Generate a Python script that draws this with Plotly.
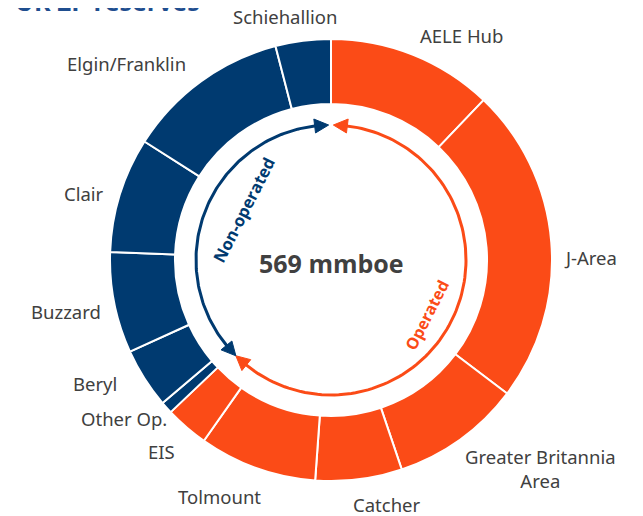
import numpy as np
import plotly.graph_objects as go

# ---- data ----
fields = ["AELE Hub", "J-Area", "Greater Britannia Area", "Catcher", "Tolmount", "EIS",
          "Other Op.", "Beryl", "Buzzard", "Clair", "Elgin/Franklin", "Schiehallion"]
reserves = [69, 132, 54, 36, 49, 18, 5, 25, 42, 48, 68, 23]
operated = [True, True, True, True, True, True, False, False, False, False, False, False]
total_label = "569 mmboe"
title_text = "UK 2P reserves"

ORANGE = "#FB4B17"
NAVY = "#003A70"
GREY = "#404040"

W, H = 643, 516
OFF = 8  # page body margin
CX, CY, R_OUT = 331 - OFF, 260 - OFF, 221
HOLE = 0.706

colors = [ORANGE if o else NAVY for o in operated]

fig = go.Figure()
fig.add_trace(go.Pie(
    labels=fields, values=reserves, sort=False, direction="clockwise", rotation=0,
    hole=HOLE, marker=dict(colors=colors, line=dict(color="white", width=2)),
    textinfo="none", showlegend=False,
    domain=dict(x=[(CX - R_OUT) / W, (CX + R_OUT) / W],
                y=[(H - CY - R_OUT) / H, (H - CY + R_OUT) / H]),
))

# ---- arrows in the hole (computed from the data split) ----
tot = sum(reserves)
split_deg = 360 * sum(v for v, o in zip(reserves, operated) if o) / tot
R_ARC = 135
head_len, head_w = 14, 7


def pt(theta_deg, r):
    t = np.radians(theta_deg)
    return CX + r * np.sin(t), CY - r * np.cos(t)


def arc(t0, t1, color):
    ts = np.linspace(t0, t1, 120)
    xs, ys = pt(ts, R_ARC)
    fig.add_trace(go.Scatter(x=xs, y=ys, mode="lines", line=dict(color=color, width=3),
                             hoverinfo="skip", showlegend=False))


def head(t_tip, direction, color):
    d = np.degrees(head_len / R_ARC)
    tb = t_tip - direction * d
    tx, ty = pt(t_tip, R_ARC)
    b1x, b1y = pt(tb, R_ARC - head_w)
    b2x, b2y = pt(tb, R_ARC + head_w)
    fig.add_trace(go.Scatter(x=[tx, b1x, b2x, tx], y=[ty, b1y, b2y, ty], mode="lines",
                             fill="toself", fillcolor=color, line=dict(color=color, width=1),
                             hoverinfo="skip", showlegend=False))


gap = 1.0
d = np.degrees(head_len / R_ARC)
split_tip = split_deg - 1.7
arc(gap + d - 1, split_tip - d + 1, ORANGE)
head(gap, -1, ORANGE)
head(split_tip, 1, ORANGE)
arc(split_tip + d - 1, 360 - gap - d + 1, NAVY)
head(split_tip, -1, NAVY)
head(360 - gap, 1, NAVY)

# ---- labels ----
label_pos = {
    "Schiehallion": (285, 16), "AELE Hub": (461, 35), "Elgin/Franklin": (126, 63),
    "Clair": (84, 193), "J-Area": (590, 257), "Buzzard": (66, 311), "Beryl": (95, 383),
    "Other Op.": (124, 418), "EIS": (161, 451), "Tolmount": (219, 496),
    "Catcher": (386, 504), "Greater Britannia Area": (540, 468),
}
label_text = {"Greater Britannia Area": "Greater Britannia<br>Area"}
annotations = []
for f in fields:
    x, y = label_pos[f]
    annotations.append(dict(x=x - OFF, y=y - OFF, xref="x", yref="y",
                            text=label_text.get(f, f), showarrow=False,
                            font=dict(family="Noto Sans", size=18.5, color=GREY)))

annotations.append(dict(x=CX, y=263 - OFF, xref="x", yref="y", text="<b>" + total_label + "</b>",
                        showarrow=False, font=dict(family="Open Sans", size=25, color=GREY)))
annotations.append(dict(x=243 - OFF, y=210 - OFF, xref="x", yref="y", text="<b>Non-operated</b>",
                        textangle=-63, showarrow=False,
                        font=dict(family="Open Sans", size=16.5, color=NAVY)))
annotations.append(dict(x=427 - OFF, y=315 - OFF, xref="x", yref="y", text="<b>Operated</b>",
                        textangle=-63, showarrow=False,
                        font=dict(family="Open Sans", size=16, color=ORANGE)))
annotations.append(dict(x=5, y=12, xref="x", yref="y", xanchor="left", yanchor="bottom",
                        text="<b>" + title_text + "</b>", showarrow=False,
                        font=dict(family="Open Sans", size=25, color="#1F4E8F")))

fig.update_layout(
    width=W, height=H, margin=dict(l=0, r=0, t=0, b=0),
    paper_bgcolor="white", plot_bgcolor="rgba(0,0,0,0)",
    xaxis=dict(range=[0, W], visible=False, fixedrange=True),
    yaxis=dict(range=[H, 0], visible=False, fixedrange=True),
    annotations=annotations,
)
fig.write_html("out.html")
